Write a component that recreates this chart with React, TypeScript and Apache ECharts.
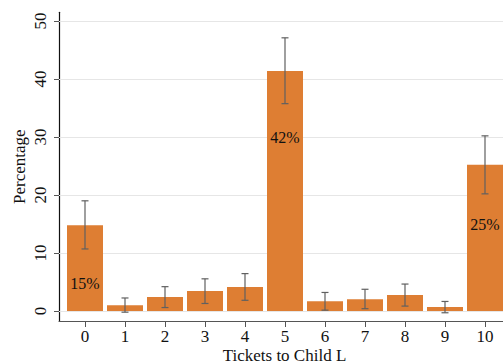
import React, { useEffect, useRef } from "react";
import * as echarts from "echarts";

// Share of tickets given to Child L (0–10), with 95% confidence intervals
const tickets = [0, 1, 2, 3, 4, 5, 6, 7, 8, 9, 10];
const percentage = [14.8, 1.0, 2.4, 3.45, 4.15, 41.4, 1.7, 2.05, 2.75, 0.7, 25.2];
const ciLow = [10.7, -0.2, 0.6, 1.3, 1.85, 35.75, 0.15, 0.4, 0.85, -0.3, 20.2];
const ciHigh = [19.0, 2.25, 4.2, 5.55, 6.45, 47.1, 3.2, 3.75, 4.65, 1.65, 30.2];
const yTicks = [0, 10, 20, 30, 40, 50];
// bars whose share is printed inside the bar
const labelled: Record<number, string> = { 0: "15%", 5: "42%", 10: "25%" };
const labelDistance: Record<number, number> = { 0: 50, 5: 59, 10: 52 };

const FONT = "Liberation Serif";
const BAR = "#DE7E33";

export default function App() {
  const ref = useRef<HTMLDivElement>(null);

  useEffect(() => {
    if (!ref.current) return;
    const chart = echarts.init(ref.current, null, { renderer: "svg" });

    const barData = tickets.map((t, i) => {
      const item: any = { value: [t, percentage[i]] };
      if (labelled[t]) {
        item.label = {
          show: true,
          position: "insideTop",
          distance: labelDistance[t],
          formatter: labelled[t],
          color: "#111",
          fontFamily: FONT,
          fontSize: 16,
        };
      }
      return item;
    });

    const ciData = tickets.map((t, i) => [t, ciLow[i], ciHigh[i]]);

    chart.setOption({
      animation: false,
      backgroundColor: "#ffffff",
      textStyle: { fontFamily: FONT },
      grid: {
        left: 59,
        right: 0,
        top: 12.3,
        bottom: 43,
        containLabel: false,
        outerBoundsMode: "none",
      },
      xAxis: {
        type: "value",
        min: -0.65,
        max: 10.45,
        name: "Tickets to Child L",
        nameLocation: "middle",
        nameGap: 26,
        nameMoveOverlap: false,
        nameTextStyle: {
          fontFamily: FONT,
          fontSize: 17,
          color: "#111",
          padding: [0, 0, 0, 7],
        },
        axisLine: { show: true, onZero: false, lineStyle: { color: "#555", width: 1.2 } },
        axisTick: { show: true, customValues: tickets, length: 6, lineStyle: { color: "#555" } },
        axisLabel: {
          customValues: tickets,
          fontFamily: FONT,
          fontSize: 17,
          color: "#111",
          margin: 7,
        },
        splitLine: { show: false },
      },
      yAxis: {
        type: "value",
        min: -1.72,
        max: 51.5,
        name: "Percentage",
        nameLocation: "middle",
        nameRotate: 90,
        nameGap: 31,
        nameMoveOverlap: false,
        nameTextStyle: { fontFamily: FONT, fontSize: 17, color: "#111" },
        axisLine: { show: true, onZero: false, lineStyle: { color: "#111", width: 1.2 } },
        axisTick: { show: true, customValues: yTicks, length: 5, lineStyle: { color: "#555" } },
        axisLabel: {
          customValues: yTicks,
          rotate: 90,
          fontFamily: FONT,
          fontSize: 17,
          color: "#111",
          margin: 10,
        },
        splitLine: { show: false },
      },
      series: [
        {
          type: "bar",
          data: barData,
          barWidth: 36,
          itemStyle: { color: BAR },
          z: 3,
          markLine: {
            silent: true,
            symbol: "none",
            label: { show: false },
            lineStyle: { color: "#e6e6e6", width: 1, type: "solid" },
            data: yTicks.map((v) => ({ yAxis: v })),
            z: 1,
          },
        },
        {
          type: "custom",
          data: ciData,
          z: 5,
          renderItem: (params: any, api: any) => {
            const x = api.value(0);
            const lo = api.coord([x, api.value(1)]);
            const hi = api.coord([x, api.value(2)]);
            const cap = 3.5;
            const style = { stroke: "#606060", lineWidth: 1.2 };
            return {
              type: "group",
              children: [
                { type: "line", shape: { x1: lo[0], y1: lo[1], x2: hi[0], y2: hi[1] }, style },
                { type: "line", shape: { x1: hi[0] - cap, y1: hi[1], x2: hi[0] + cap, y2: hi[1] }, style },
                { type: "line", shape: { x1: lo[0] - cap, y1: lo[1], x2: lo[0] + cap, y2: lo[1] }, style },
              ],
            };
          },
        },
      ],
    });

    return () => chart.dispose();
  }, []);

  return (
    <div
      ref={ref}
      style={{ position: "absolute", left: 0, top: 0, width: 503, height: 364 }}
    />
  );
}
